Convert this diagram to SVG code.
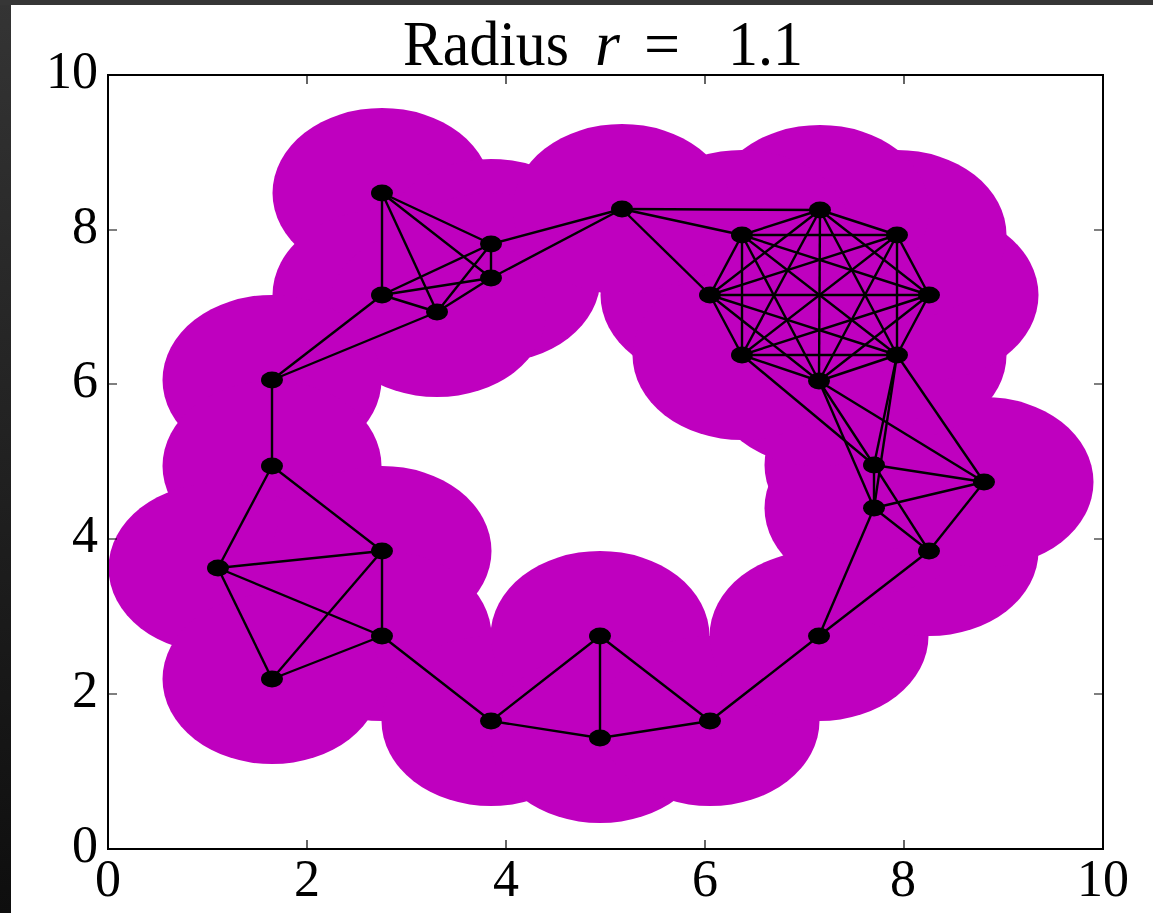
<svg xmlns="http://www.w3.org/2000/svg" width="1153" height="913" viewBox="0 0 1153 913">
<defs>
<linearGradient id="side" x1="0" y1="0" x2="0" y2="1"><stop offset="0" stop-color="#343434"/><stop offset="1" stop-color="#0e0e0e"/></linearGradient>
<clipPath id="axclip"><rect x="108" y="75" width="995" height="774"/></clipPath>
<style>
.disk{fill:#bf00bf;stroke:none}
.e{stroke:#000;stroke-width:2.4;fill:none}
.n{fill:#000}
.tick{stroke:#000;stroke-width:1.2}
.lab{font-family:"Liberation Serif","DejaVu Serif",serif;font-size:52px;fill:#000}
.title{font-family:"Liberation Serif","DejaVu Serif",serif;font-size:64px;fill:#000}
</style>
</defs>
<rect x="0" y="0" width="1153" height="913" fill="url(#side)"/>
<rect x="0" y="0" width="1153" height="5" fill="#363636"/>
<rect x="11" y="5" width="1142" height="908" fill="#fff"/>

<g id="disks" clip-path="url(#axclip)">
<ellipse class="disk" cx="382" cy="193" rx="109.5" ry="85.1"/>
<ellipse class="disk" cx="491" cy="244" rx="109.5" ry="85.1"/>
<ellipse class="disk" cx="491" cy="278" rx="109.5" ry="85.1"/>
<ellipse class="disk" cx="382" cy="295" rx="109.5" ry="85.1"/>
<ellipse class="disk" cx="437" cy="312" rx="109.5" ry="85.1"/>
<ellipse class="disk" cx="272" cy="380" rx="109.5" ry="85.1"/>
<ellipse class="disk" cx="272" cy="466" rx="109.5" ry="85.1"/>
<ellipse class="disk" cx="218" cy="568" rx="109.5" ry="85.1"/>
<ellipse class="disk" cx="382" cy="551" rx="109.5" ry="85.1"/>
<ellipse class="disk" cx="382" cy="636" rx="109.5" ry="85.1"/>
<ellipse class="disk" cx="272" cy="679" rx="109.5" ry="85.1"/>
<ellipse class="disk" cx="491" cy="721" rx="109.5" ry="85.1"/>
<ellipse class="disk" cx="600" cy="636" rx="109.5" ry="85.1"/>
<ellipse class="disk" cx="600" cy="738" rx="109.5" ry="85.1"/>
<ellipse class="disk" cx="710" cy="721" rx="109.5" ry="85.1"/>
<ellipse class="disk" cx="819" cy="636" rx="109.5" ry="85.1"/>
<ellipse class="disk" cx="929" cy="551" rx="109.5" ry="85.1"/>
<ellipse class="disk" cx="984" cy="482" rx="109.5" ry="85.1"/>
<ellipse class="disk" cx="874" cy="508" rx="109.5" ry="85.1"/>
<ellipse class="disk" cx="874" cy="465" rx="109.5" ry="85.1"/>
<ellipse class="disk" cx="897" cy="355" rx="109.5" ry="85.1"/>
<ellipse class="disk" cx="819" cy="381" rx="109.5" ry="85.1"/>
<ellipse class="disk" cx="929" cy="295" rx="109.5" ry="85.1"/>
<ellipse class="disk" cx="897" cy="235" rx="109.5" ry="85.1"/>
<ellipse class="disk" cx="820" cy="210" rx="109.5" ry="85.1"/>
<ellipse class="disk" cx="742" cy="235" rx="109.5" ry="85.1"/>
<ellipse class="disk" cx="710" cy="295" rx="109.5" ry="85.1"/>
<ellipse class="disk" cx="742" cy="355" rx="109.5" ry="85.1"/>
<ellipse class="disk" cx="622" cy="209" rx="109.5" ry="85.1"/>
</g>

<g id="connectors">
<line class="e" x1="382" y1="193" x2="491" y2="244"/>
<line class="e" x1="382" y1="193" x2="491" y2="278"/>
<line class="e" x1="382" y1="193" x2="382" y2="295"/>
<line class="e" x1="382" y1="193" x2="437" y2="312"/>
<line class="e" x1="491" y1="244" x2="491" y2="278"/>
<line class="e" x1="491" y1="244" x2="382" y2="295"/>
<line class="e" x1="491" y1="244" x2="437" y2="312"/>
<line class="e" x1="491" y1="244" x2="622" y2="209"/>
<line class="e" x1="491" y1="278" x2="382" y2="295"/>
<line class="e" x1="491" y1="278" x2="437" y2="312"/>
<line class="e" x1="491" y1="278" x2="622" y2="209"/>
<line class="e" x1="382" y1="295" x2="437" y2="312"/>
<line class="e" x1="382" y1="295" x2="272" y2="380"/>
<line class="e" x1="437" y1="312" x2="272" y2="380"/>
<line class="e" x1="272" y1="380" x2="272" y2="466"/>
<line class="e" x1="272" y1="466" x2="218" y2="568"/>
<line class="e" x1="272" y1="466" x2="382" y2="551"/>
<line class="e" x1="218" y1="568" x2="382" y2="551"/>
<line class="e" x1="218" y1="568" x2="382" y2="636"/>
<line class="e" x1="218" y1="568" x2="272" y2="679"/>
<line class="e" x1="382" y1="551" x2="382" y2="636"/>
<line class="e" x1="382" y1="551" x2="272" y2="679"/>
<line class="e" x1="382" y1="636" x2="272" y2="679"/>
<line class="e" x1="382" y1="636" x2="491" y2="721"/>
<line class="e" x1="491" y1="721" x2="600" y2="636"/>
<line class="e" x1="491" y1="721" x2="600" y2="738"/>
<line class="e" x1="600" y1="636" x2="600" y2="738"/>
<line class="e" x1="600" y1="636" x2="710" y2="721"/>
<line class="e" x1="600" y1="738" x2="710" y2="721"/>
<line class="e" x1="710" y1="721" x2="819" y2="636"/>
<line class="e" x1="819" y1="636" x2="929" y2="551"/>
<line class="e" x1="819" y1="636" x2="874" y2="508"/>
<line class="e" x1="929" y1="551" x2="984" y2="482"/>
<line class="e" x1="929" y1="551" x2="874" y2="508"/>
<line class="e" x1="929" y1="551" x2="874" y2="465"/>
<line class="e" x1="984" y1="482" x2="874" y2="508"/>
<line class="e" x1="984" y1="482" x2="874" y2="465"/>
<line class="e" x1="984" y1="482" x2="897" y2="355"/>
<line class="e" x1="984" y1="482" x2="819" y2="381"/>
<line class="e" x1="874" y1="508" x2="874" y2="465"/>
<line class="e" x1="874" y1="508" x2="897" y2="355"/>
<line class="e" x1="874" y1="508" x2="819" y2="381"/>
<line class="e" x1="874" y1="465" x2="897" y2="355"/>
<line class="e" x1="874" y1="465" x2="819" y2="381"/>
<line class="e" x1="874" y1="465" x2="742" y2="355"/>
<line class="e" x1="622" y1="209" x2="820" y2="210"/>
<line class="e" x1="622" y1="209" x2="742" y2="235"/>
<line class="e" x1="622" y1="209" x2="710" y2="295"/>
<line class="e" x1="820" y1="210" x2="742" y2="235"/>
<line class="e" x1="820" y1="210" x2="897" y2="235"/>
<line class="e" x1="820" y1="210" x2="710" y2="295"/>
<line class="e" x1="820" y1="210" x2="929" y2="295"/>
<line class="e" x1="820" y1="210" x2="742" y2="355"/>
<line class="e" x1="820" y1="210" x2="897" y2="355"/>
<line class="e" x1="820" y1="210" x2="819" y2="381"/>
<line class="e" x1="742" y1="235" x2="897" y2="235"/>
<line class="e" x1="742" y1="235" x2="710" y2="295"/>
<line class="e" x1="742" y1="235" x2="929" y2="295"/>
<line class="e" x1="742" y1="235" x2="742" y2="355"/>
<line class="e" x1="742" y1="235" x2="897" y2="355"/>
<line class="e" x1="742" y1="235" x2="819" y2="381"/>
<line class="e" x1="897" y1="235" x2="710" y2="295"/>
<line class="e" x1="897" y1="235" x2="929" y2="295"/>
<line class="e" x1="897" y1="235" x2="742" y2="355"/>
<line class="e" x1="897" y1="235" x2="897" y2="355"/>
<line class="e" x1="897" y1="235" x2="819" y2="381"/>
<line class="e" x1="710" y1="295" x2="929" y2="295"/>
<line class="e" x1="710" y1="295" x2="742" y2="355"/>
<line class="e" x1="710" y1="295" x2="897" y2="355"/>
<line class="e" x1="710" y1="295" x2="819" y2="381"/>
<line class="e" x1="929" y1="295" x2="742" y2="355"/>
<line class="e" x1="929" y1="295" x2="897" y2="355"/>
<line class="e" x1="929" y1="295" x2="819" y2="381"/>
<line class="e" x1="742" y1="355" x2="897" y2="355"/>
<line class="e" x1="742" y1="355" x2="819" y2="381"/>
<line class="e" x1="897" y1="355" x2="819" y2="381"/>
</g>

<g id="node-A"><ellipse class="n" cx="382" cy="193" rx="11" ry="8.5"/></g>
<g id="node-B"><ellipse class="n" cx="491" cy="244" rx="11" ry="8.5"/></g>
<g id="node-C"><ellipse class="n" cx="491" cy="278" rx="11" ry="8.5"/></g>
<g id="node-D"><ellipse class="n" cx="382" cy="295" rx="11" ry="8.5"/></g>
<g id="node-E"><ellipse class="n" cx="437" cy="312" rx="11" ry="8.5"/></g>
<g id="node-F"><ellipse class="n" cx="272" cy="380" rx="11" ry="8.5"/></g>
<g id="node-G"><ellipse class="n" cx="272" cy="466" rx="11" ry="8.5"/></g>
<g id="node-H"><ellipse class="n" cx="218" cy="568" rx="11" ry="8.5"/></g>
<g id="node-I"><ellipse class="n" cx="382" cy="551" rx="11" ry="8.5"/></g>
<g id="node-J"><ellipse class="n" cx="382" cy="636" rx="11" ry="8.5"/></g>
<g id="node-K"><ellipse class="n" cx="272" cy="679" rx="11" ry="8.5"/></g>
<g id="node-L"><ellipse class="n" cx="491" cy="721" rx="11" ry="8.5"/></g>
<g id="node-M"><ellipse class="n" cx="600" cy="636" rx="11" ry="8.5"/></g>
<g id="node-N"><ellipse class="n" cx="600" cy="738" rx="11" ry="8.5"/></g>
<g id="node-O"><ellipse class="n" cx="710" cy="721" rx="11" ry="8.5"/></g>
<g id="node-P"><ellipse class="n" cx="819" cy="636" rx="11" ry="8.5"/></g>
<g id="node-Q"><ellipse class="n" cx="929" cy="551" rx="11" ry="8.5"/></g>
<g id="node-R"><ellipse class="n" cx="984" cy="482" rx="11" ry="8.5"/></g>
<g id="node-S"><ellipse class="n" cx="874" cy="508" rx="11" ry="8.5"/></g>
<g id="node-T"><ellipse class="n" cx="874" cy="465" rx="11" ry="8.5"/></g>
<g id="node-U"><ellipse class="n" cx="897" cy="355" rx="11" ry="8.5"/></g>
<g id="node-V"><ellipse class="n" cx="819" cy="381" rx="11" ry="8.5"/></g>
<g id="node-W"><ellipse class="n" cx="929" cy="295" rx="11" ry="8.5"/></g>
<g id="node-X"><ellipse class="n" cx="897" cy="235" rx="11" ry="8.5"/></g>
<g id="node-Y"><ellipse class="n" cx="820" cy="210" rx="11" ry="8.5"/></g>
<g id="node-Z"><ellipse class="n" cx="742" cy="235" rx="11" ry="8.5"/></g>
<g id="node-AA"><ellipse class="n" cx="710" cy="295" rx="11" ry="8.5"/></g>
<g id="node-AB"><ellipse class="n" cx="742" cy="355" rx="11" ry="8.5"/></g>
<g id="node-AC"><ellipse class="n" cx="622" cy="209" rx="11" ry="8.5"/></g>

<g id="axes">
<rect x="108" y="75" width="995" height="774" fill="none" stroke="#000" stroke-width="2"/>
<path class="tick" d="M307 849v-9M506 849v-9M705 849v-9M904 849v-9M307 75v9M506 75v9M705 75v9M904 75v9M108 694h9M108 539h9M108 384h9M108 230h9M1103 694h-9M1103 539h-9M1103 384h-9M1103 230h-9"/>
<g class="lab" text-anchor="middle">
<text x="108" y="896">0</text>
<text x="307" y="896">2</text>
<text x="506" y="896">4</text>
<text x="705" y="896">6</text>
<text x="903" y="896">8</text>
<text x="1103" y="896">10</text>
</g>
<g class="lab" text-anchor="end">
<text x="98" y="862">0</text>
<text x="98" y="707">2</text>
<text x="98" y="552">4</text>
<text x="98" y="397">6</text>
<text x="98" y="243">8</text>
<text x="98" y="88">10</text>
</g>
</g>

<g id="title" class="title">
<text y="65"><tspan x="403" textLength="166" lengthAdjust="spacingAndGlyphs">Radius</tspan><tspan x="595" font-style="italic">r</tspan><tspan x="644">=</tspan><tspan x="728" textLength="75" lengthAdjust="spacingAndGlyphs">1.1</tspan></text>
</g>
</svg>
